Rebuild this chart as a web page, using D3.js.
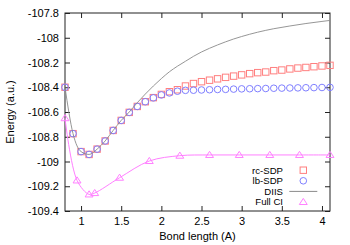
<!DOCTYPE html>
<html><head><meta charset="utf-8">
<script src="https://cdn.jsdelivr.net/npm/d3@7"></script>
<style>
html,body{margin:0;padding:0;background:#fff;}
text{font-family:"Liberation Sans",Arial,sans-serif;}
</style></head>
<body><svg id="c" width="350" height="245"></svg>
<script>
// Bond lengths for SDP / DIIS series
const bondX = [0.8,0.9,1.0,1.1,1.2,1.3,1.4,1.5,1.6,1.7,1.8,1.9,2.0,2.1,2.2,2.3,2.4,2.5,2.6,2.7,2.8,2.9,3.0,3.1,3.2,3.3,3.4,3.5,3.6,3.7,3.8,3.9,4.0,4.1];
const rcSDP = [-108.40,-108.775,-108.92,-108.943,-108.90,-108.834,-108.749,-108.668,-108.603,-108.555,-108.517,-108.484,-108.458,-108.436,-108.42,-108.39,-108.37,-108.355,-108.343,-108.332,-108.32,-108.31,-108.30,-108.29,-108.282,-108.277,-108.266,-108.261,-108.252,-108.245,-108.24,-108.234,-108.228,-108.223];
const lbSDP = [-108.40,-108.775,-108.92,-108.943,-108.90,-108.834,-108.749,-108.668,-108.603,-108.555,-108.517,-108.486,-108.462,-108.446,-108.432,-108.425,-108.424,-108.422,-108.42,-108.418,-108.417,-108.415,-108.413,-108.412,-108.411,-108.41,-108.408,-108.407,-108.406,-108.405,-108.404,-108.403,-108.402,-108.401];
const diisX = [0.8,0.9,1.0,1.1,1.2,1.3,1.4,1.5,1.6,1.7,1.8,1.9,2.0,2.1,2.2,2.3,2.4,2.5,2.6,2.7,2.8,2.9,3.0,3.2,3.4,3.6,3.8,4.0,4.1];
const diisY = [-108.40,-108.775,-108.92,-108.943,-108.90,-108.834,-108.749,-108.668,-108.60,-108.525,-108.455,-108.39,-108.33,-108.275,-108.23,-108.19,-108.15,-108.115,-108.085,-108.058,-108.033,-108.01,-107.99,-107.955,-107.927,-107.905,-107.885,-107.868,-107.86];
const fciX = [0.8,0.95,1.1,1.17,1.48,1.85,2.23,2.6,2.97,3.35,3.72,4.1];
const fciY = [-108.65,-109.153,-109.266,-109.255,-109.131,-108.996,-108.953,-108.947,-108.947,-108.947,-108.947,-108.947];
const xTicks = [1,1.5,2,2.5,3,3.5,4];
const yTicks = [-107.8,-108,-108.2,-108.4,-108.6,-108.8,-109,-109.2,-109.4];
const legendLabels = ["rc-SDP","lb-SDP","DIIS","Full CI"];

const svg = d3.select("#c");
const L=65,R=330,T=13,B=211;
const x = d3.scaleLinear().domain([0.8,4.1]).range([L,R]);
const y = d3.scaleLinear().domain([-109.4,-107.8]).range([B,T]);

const cRC="#ff7f7f", cLB="#7f7fff", cDI="#8a8a8a", cFC="#ff80ff";
const fmt = d => String(d);

const axisCol="#222";
function styleAxis(g){ g.select(".domain").remove(); g.selectAll("line").attr("stroke",axisCol); g.selectAll("text").attr("fill","#000").style("font-size","11px"); }
svg.append("g").attr("transform",`translate(0,${B})`).call(d3.axisBottom(x).tickValues(xTicks).tickSize(-5).tickPadding(6).tickFormat(fmt)).call(styleAxis);
svg.append("g").attr("transform",`translate(0,${T})`).call(d3.axisTop(x).tickValues(xTicks).tickSize(-5).tickFormat("")).call(styleAxis);
svg.append("g").attr("transform",`translate(${L},0)`).call(d3.axisLeft(y).tickValues(yTicks).tickSize(-5).tickPadding(6).tickFormat(fmt)).call(styleAxis);
svg.append("g").attr("transform",`translate(${R},0)`).call(d3.axisRight(y).tickValues(yTicks).tickSize(-5).tickFormat("")).call(styleAxis);
svg.append("rect").attr("x",L).attr("y",T).attr("width",R-L).attr("height",B-T).attr("fill","none").attr("stroke",axisCol).attr("stroke-width",1);

svg.append("text").attr("x",(L+R)/2).attr("y",240).attr("text-anchor","middle").style("font-size","11px").text("Bond length (A)");
svg.append("text").attr("transform",`translate(14,${(T+B)/2}) rotate(-90)`).attr("text-anchor","middle").style("font-size","11px").text("Energy (a.u.)");

const sq=6.4, cr=3.3;
function square(g,cx,cy,col){ g.append("rect").attr("x",cx-sq/2).attr("y",cy-sq/2).attr("width",sq).attr("height",sq).attr("fill","none").attr("stroke",col).attr("stroke-width",1); }
function circle(g,cx,cy,col){ g.append("circle").attr("cx",cx).attr("cy",cy).attr("r",cr).attr("fill","none").attr("stroke",col).attr("stroke-width",1); }
function tri(g,cx,cy,col){ const h=3.6; g.append("path").attr("d",`M${cx},${cy-h}L${cx+h*1.1},${cy+h*0.7}L${cx-h*1.1},${cy+h*0.7}Z`).attr("fill","none").attr("stroke",col).attr("stroke-width",1); }

const gp = svg.append("g");
bondX.forEach((b,i)=>square(gp,x(b),y(rcSDP[i]),cRC));
bondX.forEach((b,i)=>circle(gp,x(b),y(lbSDP[i]),cLB));
const line = d3.line().x(d=>x(d[0])).y(d=>y(d[1])).curve(d3.curveMonotoneX);
gp.append("path").attr("d",line(diisX.map((v,i)=>[v,diisY[i]]))).attr("fill","none").attr("stroke",cDI).attr("stroke-width",0.9);
const fline = d3.line().x(d=>x(d[0])).y(d=>y(d[1])).curve(d3.curveCatmullRom.alpha(0.5));
gp.append("path").attr("d",fline(fciX.map((v,i)=>[v,fciY[i]]))).attr("fill","none").attr("stroke",cFC).attr("stroke-width",1);
fciX.forEach((b,i)=>tri(gp,x(b),y(fciY[i]),cFC));

const lg = svg.append("g");
const ly0=170.2, ldy=10.6, ltx=283, lmx=303.3;
legendLabels.forEach((t,i)=>{
  const yy = ly0+i*ldy;
  lg.append("text").attr("x",ltx).attr("y",yy).attr("dy","0.35em").attr("text-anchor","end").style("font-size","9.6px").text(t);
});
square(lg,lmx,ly0,cRC);
circle(lg,lmx,ly0+ldy,cLB);
lg.append("line").attr("x1",289.3).attr("x2",317.3).attr("y1",ly0+2*ldy).attr("y2",ly0+2*ldy).attr("stroke",cDI).attr("stroke-width",1);
tri(lg,lmx,ly0+3*ldy,cFC);
</script></body></html>
